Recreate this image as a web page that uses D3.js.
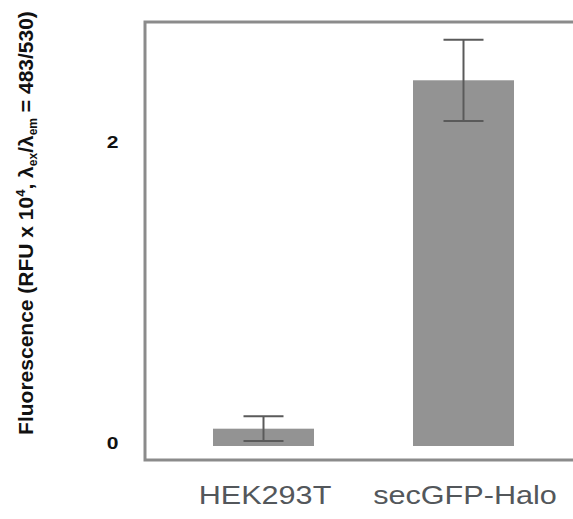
<!DOCTYPE html>
<html>
<head>
<meta charset="utf-8">
<script src="https://cdn.jsdelivr.net/npm/d3@7"></script>
<style>
  html, body { margin: 0; padding: 0; background: #fff; }
  svg { display: block; }
  text { font-family: "Liberation Sans", Arial, Helvetica, sans-serif; }
</style>
</head>
<body>
<svg id="chart" width="573" height="519"></svg>
<script>
// Fluorescence readings (RFU x 10^4), mean and error per sample
const categories = ["HEK293T", "secGFP-Halo"];
const means = [0.115, 2.43];
const errors = [0.082, 0.27];
const yTicks = [0, 2];

const svg = d3.select("#chart");
const W = 573, H = 519;
const frame = { left: 145, top: 22, bottom: 460 };
const textStretch = 1.2;

const x = d3.scaleBand()
  .domain(categories)
  .range([163.5, 563.5])
  .paddingInner(0.495)
  .paddingOuter(0.2475);

const y = d3.scaleLinear()
  .domain([0, 2])
  .range([446, 145]);

// Frame (left, top and bottom edges; open to the right)
svg.append("path")
  .attr("d", `M${W + 5},${frame.top} H${frame.left} V${frame.bottom} H${W + 5}`)
  .attr("fill", "none")
  .attr("stroke", "#8b8b8b")
  .attr("stroke-width", 3);

// Bars
svg.selectAll("rect.bar")
  .data(categories)
  .join("rect")
  .attr("class", "bar")
  .attr("x", d => x(d))
  .attr("width", x.bandwidth())
  .attr("y", (d, i) => y(means[i]))
  .attr("height", (d, i) => y(0) - y(means[i]))
  .attr("fill", "#939393");

// Error bars
const capHalf = 20;
const eg = svg.append("g").attr("stroke", "#5a5a5a").attr("stroke-width", 2).attr("fill", "none");
categories.forEach((c, i) => {
  const cx = x(c) + x.bandwidth() / 2;
  const hi = y(means[i] + errors[i]);
  const lo = y(means[i] - errors[i]);
  eg.append("line").attr("x1", cx).attr("x2", cx).attr("y1", hi).attr("y2", lo);
  eg.append("line").attr("x1", cx - capHalf).attr("x2", cx + capHalf).attr("y1", hi).attr("y2", hi);
  eg.append("line").attr("x1", cx - capHalf).attr("x2", cx + capHalf).attr("y1", lo).attr("y2", lo);
});

// Y tick labels
svg.selectAll("text.ytick")
  .data(yTicks)
  .join("text")
  .attr("class", "ytick")
  .attr("transform", d => `translate(112.5,${y(d) - 2.5}) scale(1.24,1)`)
  .attr("text-anchor", "middle")
  .attr("dominant-baseline", "central")
  .attr("font-size", 17)
  .attr("font-weight", "bold")
  .attr("fill", "#111")
  .text(d => d);

// Category labels
svg.selectAll("text.xlab")
  .data(categories)
  .join("text")
  .attr("class", "xlab")
  .attr("transform", d => `translate(${x(d) + x.bandwidth() / 2 + 1.5},504) scale(${textStretch},1)`)
  .attr("text-anchor", "middle")
  .attr("font-size", 25.5)
  .attr("fill", "#53575b")
  .text(d => d);

// Y axis title
const title = svg.append("text")
  .attr("transform", "translate(33,223) rotate(-90)")
  .attr("text-anchor", "middle")
  .attr("font-size", 21)
  .attr("font-weight", "bold")
  .attr("fill", "#111");
title.append("tspan").text("Fluorescence (RFU x 10");
title.append("tspan").attr("font-size", 13).attr("dy", -8).text("4");
title.append("tspan").attr("dy", 8).text(", λ");
title.append("tspan").attr("font-size", 12).attr("dy", 4).text("ex");
title.append("tspan").attr("dy", -4).text("/λ");
title.append("tspan").attr("font-size", 12).attr("dy", 4).text("em");
title.append("tspan").attr("dy", -4).text(" = 483/530)");
</script>
</body>
</html>
